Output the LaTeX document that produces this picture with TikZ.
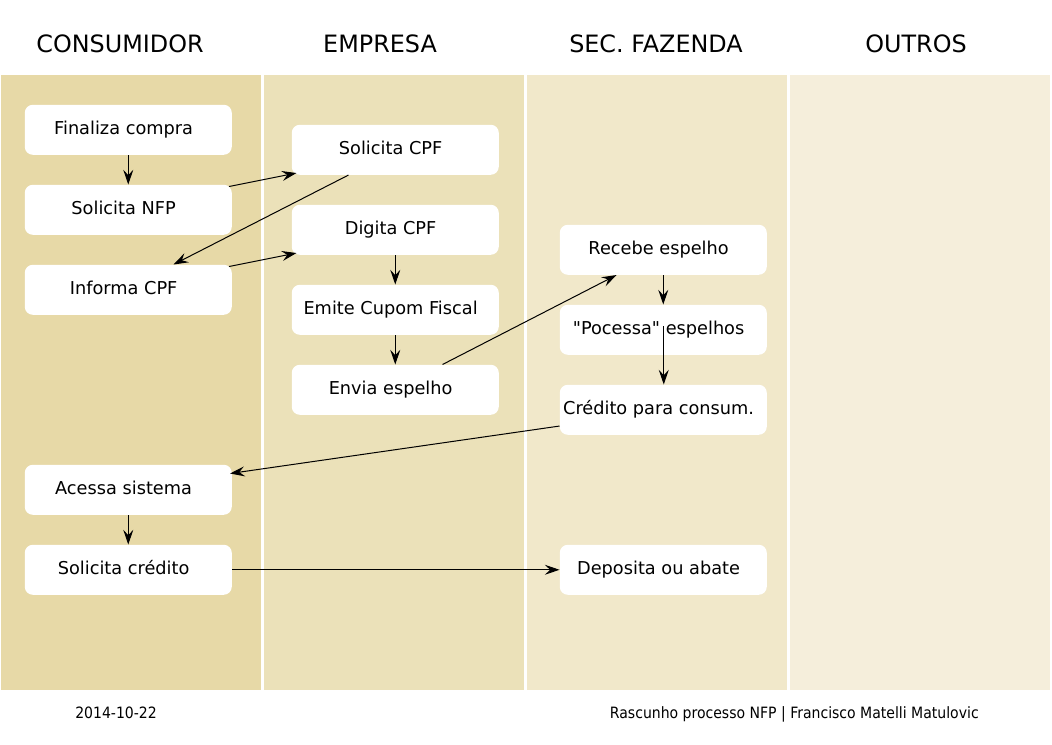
\documentclass[tikz,border=0pt]{standalone}
\usepackage{fontspec}
\setmainfont{DejaVu Sans}[Ligatures=TeXOff]
\newfontfamily\condfont{DejaVu Sans Condensed}
\usetikzlibrary{arrows.meta,calc}
\definecolor{laneA}{HTML}{E7D9A7}
\definecolor{laneB}{HTML}{EBE1B9}
\definecolor{laneC}{HTML}{F1E8CA}
\definecolor{laneD}{HTML}{F5EEDB}
\begin{document}
\begin{tikzpicture}[x=0.75pt,y=-0.75pt,
 box/.style={fill=white, draw=none, rounded corners=6pt, minimum width=155.25pt, minimum height=37.5pt, inner sep=0pt, text height=10pt, text depth=3.5pt, anchor=north west, font=\fontsize{13.3}{16}\selectfont, execute at begin node=\hspace*{-7pt}},
 head/.style={font=\fontsize{17.9}{21}\selectfont, inner sep=0pt},
 foot/.style={font=\condfont\fontsize{11.7}{14}\selectfont, inner sep=0pt},
 flow/.style={-{Stealth[length=11pt,width=7.5pt,inset=4pt]}, line width=0.75pt, black}]
\useasboundingbox (0,0) rectangle (1052,744);
\fill[white] (0,0) rectangle (1052,744);
% lanes
\fill[laneA] (1,75) rectangle (261,690);
\fill[laneB] (264,75) rectangle (524,690);
\fill[laneC] (527,75) rectangle (787,690);
\fill[laneD] (790,75) rectangle (1050,690);
% headers
\node[head] (h1) at (120,44) {CONSUMIDOR};
\node[head] (h2) at (380,44) {EMPRESA};
\node[head] (h3) at (656,44) {SEC. FAZENDA};
\node[head] (h4) at (916,44) {OUTROS};
% consumidor
\node[box] (fin) at (24.5,104.5) {Finaliza compra};
\node[box] (nfp) at (24.5,184.5) {Solicita NFP};
\node[box] (inf) at (24.5,264.5) {Informa CPF};
\node[box] (acc) at (24.5,464.5) {Acessa sistema};
\node[box] (sc)  at (24.5,544.5) {Solicita crédito};
% empresa
\node[box] (scpf) at (291.5,124.5) {Solicita CPF};
\node[box] (dig)  at (291.5,204.5) {Digita CPF};
\node[box] (emi)  at (291.5,284.5) {Emite Cupom Fiscal};
\node[box] (env)  at (291.5,364.5) {Envia espelho};
% fazenda
\node[box] (rec)  at (559.5,224.5) {Recebe espelho};
\node[box] (poc)  at (559.5,304.5) {"Pocessa" espelhos};
\node[box] (cred) at (559.5,384.5) {Crédito para consum.};
\node[box] (dep)  at (559.5,544.5) {Deposita ou abate};
% footer
\node[foot, anchor=base west] (date) at (75,718) {2014-10-22};
\node[foot, anchor=base east] (auth) at (979,718) {Rascunho processo NFP | Francisco Matelli Matulovic};
% connectors
\draw[flow] (fin.south) -- (nfp.north);
\draw[flow] ($(nfp.north east)+(-3,2)$) -- ($(scpf.south west)+(5,-2)$);
\draw[flow] ($(scpf.south west)+(57,0)$) -- ($(inf.north west)+(149,0)$);
\draw[flow] ($(inf.north east)+(-3,2)$) -- ($(dig.south west)+(5,-2)$);
\draw[flow] (dig.south) -- (emi.north);
\draw[flow] (emi.south) -- (env.north);
\draw[flow] ($(env.north west)+(151,0)$) -- ($(rec.south west)+(57,0)$);
\draw[flow] (rec.south) -- (poc.north);
\draw[flow] ($(poc.center)+(0.5,-3.5)$) -- ($(cred.north)+(0.5,0)$);
\draw[flow] ($(cred.south west)+(0,-9)$) -- ($(acc.north east)+(-2,9)$);
\draw[flow] (acc.south) -- (sc.north);
\draw[flow] (sc.east) -- (dep.west);
\end{tikzpicture}
\end{document}
